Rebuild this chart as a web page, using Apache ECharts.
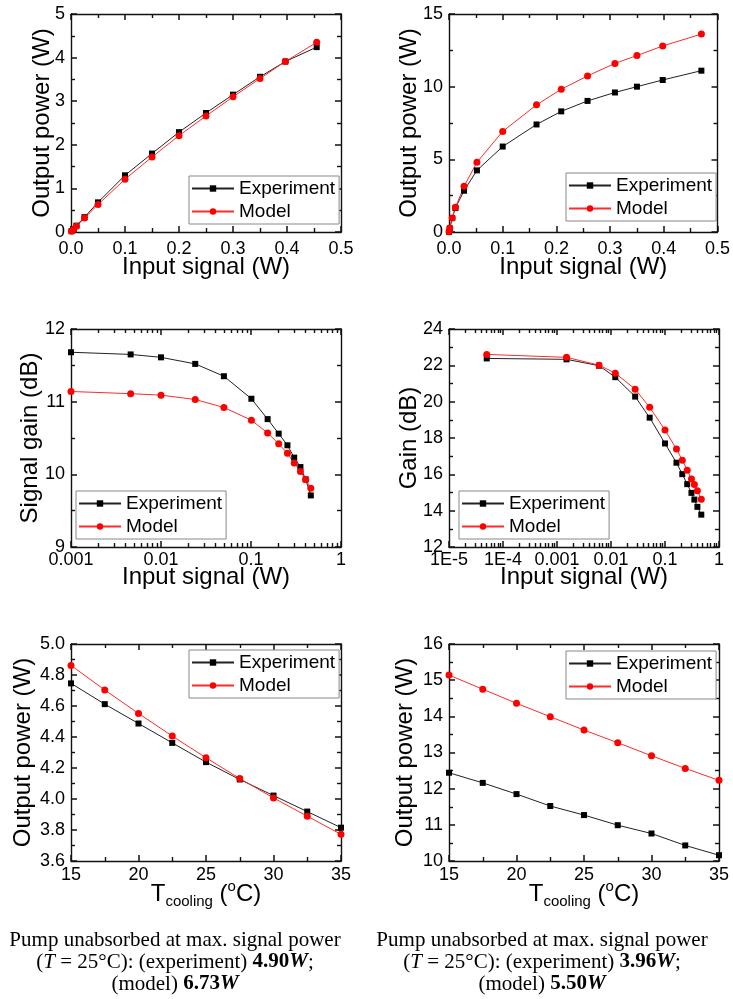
<!DOCTYPE html>
<html>
<head>
<meta charset="utf-8">
<script src="https://cdn.jsdelivr.net/npm/echarts@6/dist/echarts.min.js"></script>
<style>
html, body { margin: 0; padding: 0; background: #fff; }
#main { width: 733px; height: 999px; }
</style>
</head>
<body>
<div id="main"></div>
<script>
// ---- data ----
// top left: output power vs input signal
var p1Input = [0.001, 0.0046, 0.01, 0.025, 0.05, 0.1, 0.15, 0.2, 0.25, 0.3, 0.35, 0.397, 0.455];
var p1Exp   = [0.02, 0.07, 0.145, 0.34, 0.68, 1.3, 1.8, 2.29, 2.73, 3.15, 3.56, 3.91, 4.24];
var p1Model = [0.015, 0.06, 0.13, 0.32, 0.63, 1.21, 1.72, 2.21, 2.66, 3.1, 3.52, 3.91, 4.35];

// top right: output power vs input signal
var p2Input = [0.00006, 0.0015, 0.006, 0.012, 0.028, 0.052, 0.1, 0.163, 0.209, 0.258, 0.309, 0.35, 0.398, 0.47];
var p2Exp   = [0.01, 0.25, 0.96, 1.65, 2.84, 4.24, 5.88, 7.4, 8.3, 9.02, 9.6, 10.0, 10.46, 11.1];
var p2Model = [0.01, 0.27, 0.96, 1.7, 3.14, 4.8, 6.92, 8.75, 9.82, 10.74, 11.6, 12.14, 12.8, 13.62];

// middle left: signal gain vs input signal (log)
var p3Input = [0.001, 0.0046, 0.01, 0.024, 0.05, 0.101, 0.153, 0.203, 0.254, 0.302, 0.354, 0.405, 0.462];
var p3Exp   = [11.68, 11.65, 11.61, 11.52, 11.35, 11.04, 10.76, 10.56, 10.4, 10.23, 10.1, 9.93, 9.71];
var p3Model = [11.14, 11.11, 11.09, 11.03, 10.92, 10.745, 10.57, 10.42, 10.29, 10.155, 10.04, 9.93, 9.81];

// middle right: gain vs input signal (log)
var p4Input = [0.00005, 0.0015, 0.006, 0.012, 0.028, 0.052, 0.1, 0.163, 0.209, 0.258, 0.309, 0.35, 0.398, 0.47];
var p4Exp   = [22.38, 22.33, 21.98, 21.35, 20.28, 19.12, 17.7, 16.64, 16.01, 15.46, 14.98, 14.61, 14.21, 13.78];
var p4Model = [22.6, 22.44, 22.01, 21.57, 20.69, 19.69, 18.44, 17.39, 16.78, 16.23, 15.75, 15.44, 15.09, 14.63];

// bottom row: output power vs cooling temperature
var tCooling = [15, 17.5, 20, 22.5, 25, 27.5, 30, 32.5, 35];
var p5Exp   = [4.746, 4.612, 4.487, 4.362, 4.238, 4.126, 4.022, 3.919, 3.815];
var p5Model = [4.862, 4.703, 4.552, 4.406, 4.266, 4.132, 4.007, 3.889, 3.772];
var p6Exp   = [12.44, 12.16, 11.85, 11.52, 11.27, 10.99, 10.76, 10.43, 10.16];
var p6Model = [15.14, 14.75, 14.36, 13.99, 13.62, 13.27, 12.91, 12.56, 12.23];

// tick labels
var p1XTicks = ['0.0', '0.1', '0.2', '0.3', '0.4', '0.5'];
var p1YTicks = ['0', '1', '2', '3', '4', '5'];
var p2YTicks = ['0', '5', '10', '15'];
var p3XTicks = ['0.001', '0.01', '0.1', '1'];
var p3YTicks = ['9', '10', '11', '12'];
var p4XTicks = ['1E-5', '1E-4', '0.001', '0.01', '0.1', '1'];
var p4YTicks = ['12', '14', '16', '18', '20', '22', '24'];
var tXTicks  = ['15', '20', '25', '30', '35'];
var p5YTicks = ['3.6', '3.8', '4.0', '4.2', '4.4', '4.6', '4.8', '5.0'];
var p6YTicks = ['10', '11', '12', '13', '14', '15', '16'];

var font = 'Liberation Sans, Arial, sans-serif';
var serif = 'Liberation Serif, Times New Roman, serif';

function zip(xs, ys) {
  return xs.map(function (x, i) { return [x, ys[i]]; });
}

var grids = [], xAxes = [], yAxes = [], series = [], legends = [];

// one side of the box frame; ticks point inwards on all four sides
function axis(gi, pos, c, main) {
  var a = {
    type: c.type || 'value',
    gridIndex: gi,
    position: pos,
    min: c.min,
    max: c.max,
    axisLine: { show: true, onZero: false, lineStyle: { color: '#111', width: 1.4 } },
    axisTick: { show: true, inside: true, length: 6, lineStyle: { color: '#111', width: 1.5 } },
    minorTick: { show: true, splitNumber: c.minor, length: 4, lineStyle: { color: '#111', width: 1.4 } },
    splitLine: { show: false },
    axisLabel: { show: false }
  };
  if (c.type === 'log') { a.logBase = 10; } else { a.interval = c.interval; }
  if (main) {
    a.axisLabel = {
      show: true, fontSize: 18, color: '#000', fontFamily: font, margin: c.margin,
      formatter: function (v, i) { return c.labels[i]; }
    };
    if (c.name) {
      a.name = c.name;
      a.nameLocation = 'middle';
      a.nameGap = c.nameGap;
      a.nameMoveOverlap = false;
      a.nameTextStyle = { fontSize: 24, color: '#000', fontFamily: font };
    }
  }
  return a;
}

function panel(p) {
  var gi = grids.length;
  grids.push({ left: p.box[0], top: p.box[1], width: p.box[2], height: p.box[3] });
  var xi = xAxes.length, yi = yAxes.length;
  xAxes.push(axis(gi, 'bottom', p.x, true));
  xAxes.push(axis(gi, 'top', p.x, false));
  yAxes.push(axis(gi, 'left', p.y, true));
  yAxes.push(axis(gi, 'right', p.y, false));
  series.push({
    name: 'Experiment', type: 'line', xAxisIndex: xi, yAxisIndex: yi,
    data: zip(p.xs, p.exp), symbol: 'rect', symbolSize: 6,
    itemStyle: { color: '#000' }, lineStyle: { color: '#222', width: 1 }
  });
  series.push({
    name: 'Model', type: 'line', xAxisIndex: xi, yAxisIndex: yi,
    data: zip(p.xs, p.model), symbol: 'circle', symbolSize: 7,
    itemStyle: { color: '#ff0000' }, lineStyle: { color: '#ff2a2a', width: 1 }
  });
  legends.push({
    orient: 'vertical', left: p.legend[0], top: p.legend[1],
    padding: [3, 4, 3, 2], itemGap: 4, itemWidth: 42, itemHeight: 8,
    selectedMode: false, borderColor: '#888', borderWidth: 1, backgroundColor: '#fff',
    textStyle: { fontSize: 19, color: '#000', fontFamily: font },
    data: ['Experiment', 'Model']
  });
}

panel({
  box: [71, 14, 270, 218], legend: [189, 176],
  xs: p1Input, exp: p1Exp, model: p1Model,
  x: { min: 0, max: 0.5, interval: 0.1, minor: 2, labels: p1XTicks, margin: 8, name: 'Input signal (W)', nameGap: 23 },
  y: { min: 0, max: 5, interval: 1, minor: 2, labels: p1YTicks, margin: 6, name: 'Output power (W)', nameGap: 17 }
});
panel({
  box: [449, 14, 270, 218], legend: [566, 173],
  xs: p2Input, exp: p2Exp, model: p2Model,
  x: { min: 0, max: 0.5, interval: 0.1, minor: 2, labels: p1XTicks, margin: 8, name: 'Input signal (W)', nameGap: 23 },
  y: { min: 0, max: 15, interval: 5, minor: 2, labels: p2YTicks, margin: 6, name: 'Output power (W)', nameGap: 28 }
});
panel({
  box: [71, 329, 270, 218], legend: [76, 491],
  xs: p3Input, exp: p3Exp, model: p3Model,
  x: { type: 'log', min: 0.001, max: 1, minor: 9, labels: p3XTicks, margin: 4, name: 'Input signal (W)', nameGap: 18 },
  y: { min: 9, max: 12, interval: 1, minor: 2, labels: p3YTicks, margin: 6, name: 'Signal gain (dB)', nameGap: 29 }
});
panel({
  box: [449, 329, 270, 218], legend: [459, 491],
  xs: p4Input, exp: p4Exp, model: p4Model,
  x: { type: 'log', min: 0.00001, max: 1, minor: 9, labels: p4XTicks, margin: 4, name: 'Input signal (W)', nameGap: 18 },
  y: { min: 12, max: 24, interval: 2, minor: 2, labels: p4YTicks, margin: 6, name: 'Gain (dB)', nameGap: 28 }
});
panel({
  box: [71, 644, 270, 217], legend: [189, 650],
  xs: tCooling, exp: p5Exp, model: p5Model,
  x: { min: 15, max: 35, interval: 5, minor: 2, labels: tXTicks, margin: 5 },
  y: { min: 3.6, max: 5.0, interval: 0.2, minor: 2, labels: p5YTicks, margin: 6, name: 'Output power (W)', nameGap: 36 }
});
panel({
  box: [449, 644, 270, 217], legend: [566, 651],
  xs: tCooling, exp: p6Exp, model: p6Model,
  x: { min: 15, max: 35, interval: 5, minor: 2, labels: tXTicks, margin: 5 },
  y: { min: 10, max: 16, interval: 1, minor: 2, labels: p6YTicks, margin: 6, name: 'Output power (W)', nameGap: 32 }
});

// T_cooling (oC) axis titles, with sub/superscript
var tRich = {
  t: { fontSize: 24, lineHeight: 30, fontFamily: font, color: '#000' },
  s: { fontSize: 15, lineHeight: 16, verticalAlign: 'bottom', fontFamily: font, color: '#000' },
  p: { fontSize: 15, lineHeight: 18, verticalAlign: 'top', fontFamily: font, color: '#000' }
};
var tName = '{t|T}{s|cooling}{t| (}{p|o}{t|C)}';
function tTitle(cx) {
  return {
    type: 'text', x: cx, y: 894,
    style: { text: tName, rich: tRich, align: 'center', verticalAlign: 'middle' }
  };
}

// captions under the bottom panels
var capRich = {
  n: { fontFamily: serif, fontSize: 21, color: '#000' },
  i: { fontFamily: serif, fontSize: 21, fontStyle: 'italic', color: '#000' },
  b: { fontFamily: serif, fontSize: 21, fontWeight: 'bold', color: '#000' },
  bi: { fontFamily: serif, fontSize: 21, fontWeight: 'bold', fontStyle: 'italic', color: '#000' }
};
function caption(cx, lines) {
  var ys = [940, 962, 984];
  return lines.map(function (t, i) {
    return {
      type: 'text', x: cx, y: ys[i],
      style: { text: t, rich: capRich, align: 'center', verticalAlign: 'middle' }
    };
  });
}
var graphics = [tTitle(206), tTitle(584)].concat(
  caption(175, [
    '{n|Pump unabsorbed at max. signal power}',
    '{n|(}{i|T}{n| = 25°C): (experiment) }{b|4.90}{bi|W}{n|;}',
    '{n|(model) }{b|6.73}{bi|W}'
  ]),
  caption(542, [
    '{n|Pump unabsorbed at max. signal power}',
    '{n|(}{i|T}{n| = 25°C): (experiment) }{b|3.96}{bi|W}{n|;}',
    '{n|(model) }{b|5.50}{bi|W}'
  ])
);

var chart = echarts.init(document.getElementById('main'));
chart.setOption({
  animation: false,
  backgroundColor: '#fff',
  grid: grids,
  xAxis: xAxes,
  yAxis: yAxes,
  legend: legends,
  series: series,
  graphic: graphics
});
</script>
</body>
</html>
